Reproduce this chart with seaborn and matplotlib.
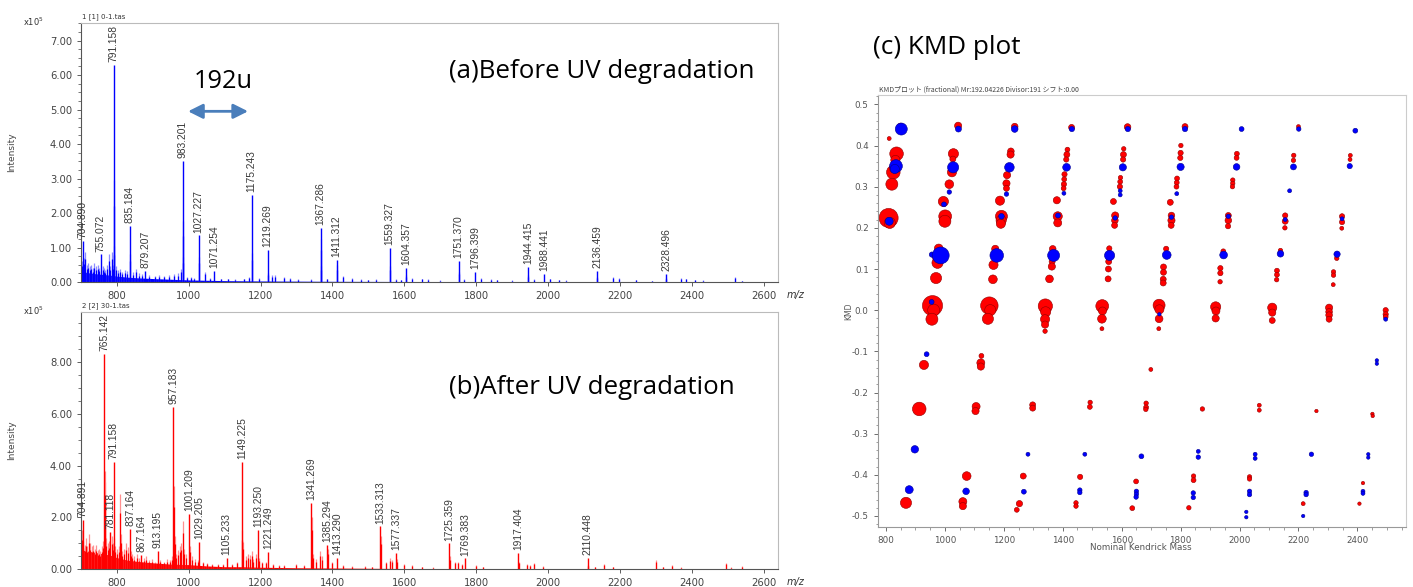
import matplotlib
matplotlib.use("Agg")
import matplotlib.pyplot as plt
from matplotlib.ticker import MultipleLocator, FormatStrFormatter
import seaborn as sns

# ---------------- spectrum data (intensity in units of 1e5) ----------------
before_labels = ["704.890", "755.072", "791.158", "835.184", "879.207", "983.201",
                 "1027.227", "1071.254", "1175.243", "1219.269", "1367.286", "1411.312",
                 "1559.327", "1604.357", "1751.370", "1796.399", "1944.415", "1988.441",
                 "2136.459", "2328.496"]
before_label_int = [1.20, 0.80, 6.30, 1.62, 0.32, 3.52, 1.35, 0.33, 2.52, 0.93, 1.57, 0.65,
                    0.98, 0.40, 0.61, 0.30, 0.44, 0.23, 0.33, 0.23]
before_minor_mz = [702, 708, 712, 716, 720, 724, 728, 733, 737, 742, 746, 750, 760, 764, 768,
                   773, 777, 781, 785, 788, 792, 793, 797, 803, 809, 815, 822, 828, 836, 845,
                   852, 862, 870, 890, 905, 918, 930, 945, 958, 970, 978, 984, 985, 995, 1005,
                   1015, 1028, 1044, 1060, 1090, 1110, 1130, 1155, 1168, 1176, 1195, 1220,
                   1232, 1240, 1265, 1283, 1305, 1340, 1368, 1369, 1385, 1412, 1430, 1455,
                   1478, 1500, 1520, 1560, 1578, 1590, 1605, 1622, 1648, 1665, 1700, 1752,
                   1767, 1812, 1840, 1858, 1900, 1945, 1960, 2005, 2030, 2050, 2137, 2180,
                   2198, 2245, 2290, 2329, 2370, 2385, 2410, 2430, 2520, 2540]
before_minor_int = [0.60, 0.70, 0.88, 0.50, 0.55, 0.45, 0.50, 0.40, 0.55, 0.45, 0.50, 0.42,
                    0.45, 0.40, 0.35, 0.50, 0.81, 0.45, 0.88, 0.50, 2.95, 1.05, 0.45, 0.35,
                    0.37, 0.30, 0.35, 0.32, 0.80, 0.28, 0.37, 0.25, 0.22, 0.20, 0.18, 0.20,
                    0.18, 0.20, 0.22, 0.25, 0.37, 1.78, 0.72, 0.15, 0.15, 0.12, 0.72, 0.30,
                    0.12, 0.10, 0.10, 0.08, 0.10, 0.15, 0.85, 0.12, 0.27, 0.20, 0.20, 0.15,
                    0.12, 0.08, 0.08, 1.25, 0.45, 0.10, 0.48, 0.18, 0.12, 0.08, 0.06, 0.08,
                    0.45, 0.08, 0.06, 0.20, 0.12, 0.10, 0.08, 0.05, 0.30, 0.08, 0.12, 0.08,
                    0.07, 0.05, 0.20, 0.08, 0.10, 0.06, 0.05, 0.15, 0.15, 0.12, 0.06, 0.04,
                    0.12, 0.12, 0.10, 0.06, 0.05, 0.15, 0.04]
before_base_mz = [700, 705, 720, 740, 760, 780, 800, 830, 860, 900, 950, 1000, 1050, 1100,
                  1200, 1300, 1400, 1600, 1800, 2000, 2200, 2400, 2550]
before_base_int = [0.35, 0.30, 0.27, 0.24, 0.22, 0.20, 0.17, 0.14, 0.12, 0.10, 0.08, 0.06,
                   0.05, 0.04, 0.03, 0.025, 0.02, 0.015, 0.012, 0.01, 0.008, 0.006, 0.0]

after_labels = ["704.891", "765.142", "781.118", "791.158", "837.164", "867.164", "913.195",
                "957.183", "1001.209", "1029.205", "1105.233", "1149.225", "1193.250",
                "1221.249", "1341.269", "1385.294", "1413.290", "1533.313", "1577.337",
                "1725.359", "1769.383", "1917.404", "2110.448"]
after_label_int = [1.90, 8.30, 1.45, 4.15, 1.55, 0.55, 0.70, 6.25, 2.15, 1.05, 0.45, 4.15,
                   1.52, 0.68, 2.55, 0.95, 0.45, 1.65, 0.63, 1.00, 0.42, 0.64, 0.45]
after_minor_mz = [702, 706, 710, 713, 717, 722, 726, 730, 734, 738, 742, 746, 750, 754, 758,
                  762, 766, 767, 770, 774, 778, 785, 788, 792, 795, 800, 805, 809, 811, 815,
                  820, 825, 830, 838, 842, 848, 855, 862, 875, 882, 890, 898, 905, 920, 930,
                  940, 948, 952, 959, 961, 965, 970, 975, 978, 983, 988, 993, 1003, 1010,
                  1018, 1025, 1040, 1050, 1065, 1080, 1095, 1120, 1135, 1147, 1151, 1160,
                  1165, 1170, 1175, 1180, 1188, 1195, 1205, 1215, 1235, 1250, 1265, 1298,
                  1320, 1343, 1345, 1355, 1365, 1372, 1387, 1400, 1430, 1455, 1490, 1510,
                  1535, 1550, 1560, 1565, 1579, 1600, 1622, 1650, 1680, 1727, 1740, 1750,
                  1760, 1800, 1820, 1919, 1940, 1950, 1962, 1985, 2112, 2130, 2155, 2180,
                  2300, 2320, 2345, 2370, 2495, 2510, 2540]
after_minor_int = [1.50, 1.10, 0.95, 1.20, 0.90, 1.35, 1.00, 0.90, 0.95, 0.80, 0.95, 0.75,
                   0.80, 0.70, 0.90, 1.10, 3.35, 3.80, 1.20, 1.00, 1.10, 1.30, 1.00, 1.20,
                   0.90, 0.80, 0.90, 2.90, 1.35, 0.70, 0.80, 1.00, 0.85, 0.70, 0.60, 0.50,
                   0.60, 0.45, 0.45, 0.50, 0.35, 0.40, 0.30, 0.35, 0.30, 0.40, 0.35, 0.50,
                   3.20, 1.30, 0.60, 0.75, 0.90, 1.00, 1.85, 0.80, 0.60, 0.90, 0.50, 0.40,
                   0.35, 0.30, 0.25, 0.20, 0.20, 0.20, 0.20, 0.30, 1.50, 1.05, 0.50, 0.60,
                   0.55, 0.70, 0.40, 0.60, 0.45, 0.30, 0.30, 0.20, 0.15, 0.15, 0.22, 0.15,
                   2.00, 0.60, 0.40, 0.70, 0.50, 0.80, 0.30, 0.15, 0.12, 0.12, 0.10, 1.30,
                   0.30, 0.45, 0.35, 0.40, 0.20, 0.15, 0.10, 0.08, 0.50, 0.30, 0.30, 0.20,
                   0.15, 0.10, 0.30, 0.20, 0.18, 0.25, 0.12, 0.15, 0.10, 0.20, 0.10, 0.35,
                   0.10, 0.15, 0.08, 0.25, 0.08, 0.12]
after_base_mz = [700, 720, 740, 760, 780, 800, 830, 860, 900, 950, 1000, 1050, 1100, 1150,
                 1200, 1300, 1400, 1500, 1600, 1800, 2000, 2200, 2400, 2550]
after_base_int = [0.75, 0.70, 0.65, 0.60, 0.55, 0.45, 0.35, 0.30, 0.25, 0.20, 0.18, 0.13,
                  0.10, 0.10, 0.08, 0.06, 0.05, 0.04, 0.03, 0.02, 0.015, 0.01, 0.008, 0.0]

# ---------------- KMD data ----------------
red_mass = [811, 850, 836, 832, 825, 829, 820, 809, 813,
            1045, 1029, 1027, 1024, 1015, 995, 1001, 1000, 979, 976, 975, 970, 958, 962, 956,
            1237, 1224, 1223, 1211, 1209, 1209, 1187, 1192, 1191, 1190, 1171, 1165, 1163, 1151, 1154, 1146,
            1430, 1416, 1414, 1412, 1406, 1405, 1404, 1403, 1380, 1383, 1383, 1366, 1365, 1364, 1363,
            1355, 1341, 1342, 1340, 1340, 1340,
            1620, 1607, 1606, 1605, 1596, 1595, 1594, 1572, 1578, 1577, 1576, 1558, 1557, 1556, 1555,
            1554, 1534, 1535, 1533, 1533,
            1815, 1801, 1800, 1799, 1788, 1787, 1786, 1765, 1769, 1769, 1768, 1751, 1742, 1742, 1741,
            1741, 1727, 1728, 1727, 1726,
            1991, 1990, 1977, 1977, 1976, 1962, 1962, 1961, 1945, 1935, 1935, 1934, 1919, 1920, 1919,
            2200, 2184, 2183, 2155, 2155, 2154, 2139, 2127, 2127, 2126, 2111, 2111, 2111,
            2376, 2375, 2348, 2348, 2347, 2330, 2319, 2319, 2318, 2304, 2304, 2304, 2304,
            2496, 2496, 2496,
            929, 913, 868, 1124, 1122, 1122, 1106, 1104, 1074, 1061, 1061, 1298, 1298, 1266, 1253,
            1244, 1493, 1492, 1459, 1445, 1445, 1699, 1683, 1683, 1682, 1649, 1636, 1874, 1844,
            1844, 1828, 2067, 2067, 2034, 2034, 2216, 2261, 2451, 2452, 2419, 2407]
red_kmd = [0.417, 0.446, 0.380, 0.365, 0.335, 0.345, 0.306, 0.224, 0.212,
           0.448, 0.380, 0.367, 0.335, 0.306, 0.264, 0.228, 0.216, 0.150, 0.128, 0.115, 0.078,
           0.011, 0.000, -0.022,
           0.446, 0.386, 0.378, 0.328, 0.308, 0.296, 0.266, 0.228, 0.218, 0.210, 0.149, 0.110,
           0.075, 0.011, 0.000, -0.021,
           0.444, 0.390, 0.378, 0.366, 0.330, 0.318, 0.306, 0.296, 0.267, 0.228, 0.212, 0.149,
           0.130, 0.118, 0.106, 0.076, 0.010, -0.004, -0.022, -0.035, -0.051,
           0.445, 0.392, 0.378, 0.366, 0.322, 0.312, 0.300, 0.264, 0.230, 0.218, 0.206, 0.150,
           0.132, 0.118, 0.100, 0.076, 0.010, -0.002, -0.021, -0.045,
           0.446, 0.400, 0.382, 0.370, 0.320, 0.310, 0.300, 0.262, 0.230, 0.218, 0.206, 0.149,
           0.105, 0.092, 0.075, 0.066, 0.012, 0.002, -0.021, -0.045,
           0.380, 0.370, 0.316, 0.308, 0.300, 0.230, 0.218, 0.204, 0.143, 0.102, 0.090, 0.069,
           0.008, -0.002, -0.020,
           0.446, 0.376, 0.364, 0.230, 0.216, 0.200, 0.145, 0.096, 0.086, 0.074, 0.006, -0.006,
           -0.025,
           0.376, 0.366, 0.228, 0.214, 0.199, 0.126, 0.093, 0.085, 0.062, 0.006, -0.004, -0.012,
           -0.022,
           0.000, -0.010, -0.016,
           -0.133, -0.240, -0.468, -0.111, -0.128, -0.137, -0.234, -0.245, -0.403, -0.465, -0.476,
           -0.230, -0.238, -0.403, -0.470, -0.485, -0.224, -0.235, -0.405, -0.468, -0.476, -0.144,
           -0.226, -0.236, -0.241, -0.416, -0.481, -0.240, -0.403, -0.413, -0.480, -0.231, -0.243,
           -0.405, -0.410, -0.470, -0.245, -0.252, -0.257, -0.420, -0.470]
red_abund = [3, 11, 45, 20, 45, 25, 35, 90, 30,
             12, 25, 8, 20, 18, 25, 40, 35, 18, 25, 30, 30, 100, 35, 35,
             10, 10, 12, 12, 12, 8, 20, 35, 25, 20, 12, 20, 18, 75, 30, 30,
             8, 5, 8, 6, 6, 5, 6, 5, 12, 20, 15, 10, 8, 8, 12, 14, 50, 25, 20, 12, 4,
             10, 4, 8, 6, 4, 5, 6, 8, 12, 10, 8, 6, 8, 8, 8, 8, 40, 15, 18, 3,
             8, 4, 6, 6, 5, 5, 5, 8, 10, 12, 8, 6, 8, 8, 8, 8, 35, 20, 14, 3,
             5, 5, 4, 4, 4, 8, 10, 6, 5, 6, 6, 4, 25, 15, 12,
             3, 4, 4, 6, 8, 4, 4, 5, 5, 4, 20, 12, 8,
             3, 3, 6, 6, 3, 4, 4, 4, 3, 12, 10, 10, 8,
             6, 6, 5,
             20, 45, 30, 5, 15, 12, 15, 12, 18, 15, 12, 8, 8, 8, 9, 5, 4, 5, 6, 4, 4, 3, 4, 5,
             4, 5, 5, 4, 4, 5, 4, 3, 3, 4, 4, 3, 2, 2, 2, 2, 2]

blue_mass = [852, 834, 830, 811, 1046, 1028, 1015, 997, 956, 986, 955,
             1237, 1219, 1209, 1192, 1176, 1431, 1413, 1404, 1384, 1369,
             1621, 1604, 1595, 1595, 1578, 1559, 1815, 1800, 1787, 1769, 1753, 1728,
             2007, 1990, 1962, 1946, 2201, 2183, 2170, 2155, 2139, 2393, 2374, 2348, 2331, 2496,
             938, 898, 879, 1072, 1282, 1268, 1475, 1458, 1458, 1667, 1650, 1650, 1649,
             1860, 1860, 1843, 1843, 2053, 2053, 2034, 2034, 2023, 2023, 2244, 2226, 2226, 2216,
             2437, 2437, 2419, 2419, 2466, 2466]
blue_kmd = [0.440, 0.350, 0.343, 0.216, 0.440, 0.347, 0.287, 0.257, 0.135, 0.133, 0.020,
            0.440, 0.347, 0.282, 0.228, 0.133, 0.440, 0.347, 0.284, 0.230, 0.133,
            0.440, 0.347, 0.290, 0.280, 0.224, 0.133, 0.440, 0.348, 0.283, 0.226, 0.134, -0.010,
            0.440, 0.348, 0.228, 0.134, 0.440, 0.348, 0.290, 0.220, 0.137, 0.436, 0.350, 0.222,
            0.136, -0.022,
            -0.107, -0.338, -0.436, -0.440, -0.350, -0.441, -0.350, -0.437, -0.443, -0.355,
            -0.440, -0.447, -0.454, -0.343, -0.357, -0.444, -0.455, -0.350, -0.360, -0.440,
            -0.448, -0.490, -0.503, -0.350, -0.443, -0.448, -0.500, -0.350, -0.358, -0.440,
            -0.445, -0.122, -0.130]
blue_abund = [35, 40, 20, 15, 8, 30, 4, 5, 6, 70, 5,
              10, 22, 4, 7, 45, 6, 14, 3, 5, 35,
              6, 12, 3, 3, 4, 25, 6, 12, 3, 4, 18, 2,
              5, 10, 4, 14, 4, 8, 3, 3, 10, 5, 6, 3, 9, 3,
              5, 13, 15, 10, 3, 5, 3, 4, 4, 5, 4, 4, 4,
              3, 4, 4, 4, 3, 3, 4, 4, 2, 2, 4, 4, 4, 2,
              2, 2, 3, 3, 2, 2]

W, H = 1413, 587
TICK_C = "#444444"


def fx(px):
    return px / W


def fy(py):
    return 1 - py / H


def draw_spectrum(ax, labels, label_int, minor_mz, minor_int, base_mz, base_int,
                  color, light, ymax, major, header):
    ax.fill_between(base_mz, 0, base_int, color=color, lw=0)
    ax.vlines(minor_mz, 0, minor_int, color=light, lw=0.9)
    ax.vlines(minor_mz, 0, [v * 0.75 for v in minor_int], color=color, lw=0.9)
    label_mz = [float(s) for s in labels]
    ax.vlines(label_mz, 0, label_int, color=color, lw=1.0)
    for s, x, y in zip(labels, label_mz, label_int):
        ax.annotate(s, (x, y), xytext=(0, 2), textcoords="offset points",
                    rotation=90, ha="center", va="bottom", fontsize=7.4,
                    family="Liberation Sans", color="#3a3a3a")
    ax.set_xlim(700, 2640)
    ax.set_ylim(0, ymax)
    ax.xaxis.set_major_locator(MultipleLocator(200))
    ax.yaxis.set_major_locator(MultipleLocator(major))
    ax.yaxis.set_minor_locator(MultipleLocator(major / 4))
    ax.yaxis.set_major_formatter(FormatStrFormatter("%.2f"))
    ax.tick_params(labelsize=7.2, colors=TICK_C, length=3, width=0.6)
    ax.tick_params(which="minor", length=2, width=0.5, colors=TICK_C)
    for side in ["top", "right"]:
        ax.spines[side].set_visible(True)
        ax.spines[side].set_color("#bbbbbb")
    for side in ["left", "bottom"]:
        ax.spines[side].set_color("#555555")
        ax.spines[side].set_linewidth(0.8)
    ax.text(0.002, 1.01, header, transform=ax.transAxes, fontsize=5,
            color="#333333", va="bottom", ha="left")
    ax.text(1.012, -0.05, "m/z", transform=ax.transAxes, fontsize=7,
            style="italic", color="#333333", va="center", ha="left")


sns.set_style("ticks")
plt.rcParams["font.family"] = ["DejaVu Sans"]

fig = plt.figure(figsize=(W / 100, H / 100), dpi=100)

ax_a = fig.add_axes([fx(81), fy(282), fx(778) - fx(81), fy(22.7) - fy(282)])
draw_spectrum(ax_a, before_labels, before_label_int, before_minor_mz, before_minor_int,
              before_base_mz, before_base_int, "#0000ff", "#8c8cff", 7.52, 1.0,
              "1 [1] 0-1.tas")

ax_b = fig.add_axes([fx(81), fy(569.3), fx(778) - fx(81), fy(311.7) - fy(569.3)])
draw_spectrum(ax_b, after_labels, after_label_int, after_minor_mz, after_minor_int,
              after_base_mz, after_base_int, "#ff0000", "#ff9090", 9.93, 2.0,
              "2 [2] 30-1.tas")

for y_exp, y_lab in [(22, 152), (311, 440)]:
    fig.text(fx(33), fy(y_exp), "x10$^5$", fontsize=6, color="#333333", ha="center", va="center")
    fig.text(fx(12), fy(y_lab), "Intensity", fontsize=6.5, color="#444444",
             rotation=90, ha="center", va="center")

# 192u arrow
ax_a.annotate("", xy=(1165, 4.95), xytext=(998, 4.95),
              arrowprops=dict(arrowstyle="<|-|>", color="#4a7ebb", lw=2, mutation_scale=22,
                              shrinkA=0, shrinkB=0))
fig.text(fx(194), fy(81), "192u", fontsize=18.3, family="Open Sans", color="black",
         ha="left", va="center")
fig.text(fx(449), fy(71), "(a)Before UV degradation", fontsize=18.6, family="Open Sans",
         color="black", ha="left", va="center")
fig.text(fx(449), fy(388), "(b)After UV degradation", fontsize=18.6, family="Open Sans",
         color="black", ha="left", va="center")
fig.text(fx(873), fy(47), "(c) KMD plot", fontsize=18.8, family="Open Sans",
         color="black", ha="left", va="center")

# ---------------- KMD plot ----------------
ax_c = fig.add_axes([fx(877.7), fy(526.7), fx(1406) - fx(877.7), fy(95) - fy(526.7)])
sns.scatterplot(x=red_mass, y=red_kmd, size=red_abund, sizes=(4, 210), size_norm=(1, 100),
                color="#ff0000", edgecolor="#900000", linewidth=0.4, legend=False, ax=ax_c,
                zorder=2)
sns.scatterplot(x=blue_mass, y=blue_kmd, size=blue_abund, sizes=(4, 210), size_norm=(1, 100),
                color="#0000ff", edgecolor="#000090", linewidth=0.4, legend=False, ax=ax_c,
                zorder=3)
ax_c.set_xlim(772, 2565)
ax_c.set_ylim(-0.526, 0.5227)
ax_c.xaxis.set_major_locator(MultipleLocator(200))
ax_c.xaxis.set_minor_locator(MultipleLocator(50))
ax_c.yaxis.set_major_locator(MultipleLocator(0.1))
ax_c.yaxis.set_minor_locator(MultipleLocator(0.02))
ax_c.yaxis.set_major_formatter(FormatStrFormatter("%.1f"))
ax_c.tick_params(labelsize=6.3, colors="#555555", length=3, width=0.6)
ax_c.tick_params(which="minor", length=1.8, width=0.5, colors="#777777")
for side in ["top", "right"]:
    ax_c.spines[side].set_visible(True)
    ax_c.spines[side].set_color("#cccccc")
for side in ["left", "bottom"]:
    ax_c.spines[side].set_color("#999999")
    ax_c.spines[side].set_linewidth(0.8)
ax_c.set_xlabel("")
ax_c.set_ylabel("")
fig.text(fx(879), fy(90), "KMDプロット (fractional) Mr:192.04226 Divisor:191 シフト:0.00",
         fontsize=5, color="#444444", family=["Noto Sans CJK JP", "DejaVu Sans"],
         ha="left", va="center")
fig.text(fx(849), fy(311), "KMD", fontsize=5.5, color="#555555", rotation=90,
         ha="center", va="center")
fig.text(fx(1141), fy(547), "Nominal Kendrick Mass", fontsize=6.3, color="#555555",
         ha="center", va="center")

fig.savefig("out.png", dpi=100)
